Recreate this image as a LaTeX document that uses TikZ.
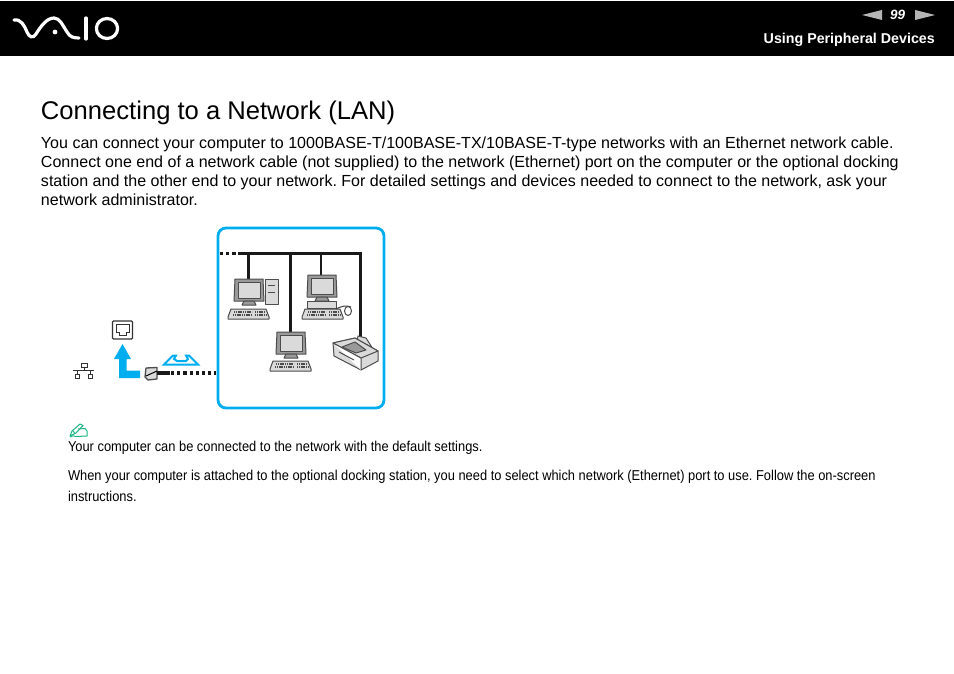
\documentclass[tikz,border=0pt]{standalone}
\usepackage{fontspec}
\setmainfont{Liberation Sans}
\newfontfamily\narrowfont[FakeStretch=0.9]{Liberation Sans}
\definecolor{vblue}{HTML}{00AEEF}
\definecolor{vgreen}{HTML}{1DB584}
\definecolor{vgray}{HTML}{B5B5B5}
\definecolor{scr}{HTML}{DADADA}
\definecolor{mid}{HTML}{9A9A9A}
\tikzset{
  txt/.style={anchor=base west,inner sep=0pt,outer sep=0pt},
  bodytxt/.style={txt,font=\fontsize{16.04}{18}\selectfont\frenchspacing},
  notetxt/.style={txt,font=\narrowfont\fontsize{14.3}{17}\selectfont\frenchspacing},
  cable/.style={line width=2.8pt,color=black!90},
  bus/.style={line width=3.4pt,color=black!90},
  dots/.style={line width=3.2pt,color=black!90,dash pattern=on 3.2pt off 3pt},
  dev/.style={draw=black!70,line width=1pt,fill=white,line join=round},
  logo/.style={draw=white,line width=3.2pt,line cap=round},
  monitor/.pic={
    \draw[dev,fill=mid] (0,0) -- (28,0) -- (29,22) -- (-1,22) -- cycle;
    \draw[dev,fill=scr] (3,3) rectangle (25,19);
    \draw[dev,fill=mid] (9,22) -- (19,22) -- (21,26) -- (7,26) -- cycle;
  },
  keyboard/.pic={
    \draw[dev,fill=scr] (3,0) -- (38,0) -- (41,8) -- (41,10) -- (0,10) -- (0,8) -- cycle;
    \draw[black!70,line width=1.2pt,dash pattern=on 1.2pt off 0.6pt] (6,3) -- (24,3) (5,6) -- (24,6) (27,3) -- (37,3) (27,6) -- (38,6);
  },
}
\begin{document}
\begin{tikzpicture}[x=1pt,y=-1pt]
\useasboundingbox (0,0) rectangle (954,674);
\fill[white] (0,0) rectangle (954,674);
% header
\fill[black] (0,1) rectangle (954,56);
\draw[logo] (14,20) .. controls (21,19) and (24,25) .. (27,32) .. controls (29,37) and (33,39) .. (36,34)
   .. controls (41,26) and (47,18) .. (54,18) .. controls (60,18) and (63,26) .. (67,32) .. controls (70,37) and (73,38) .. (79,38);
\fill[white] (55,32) circle (2.4);
\draw[logo] (86,18) -- (86,39);
\draw[logo] (107,28.5) ellipse (10.6 and 10);
\fill[vgray] (862,15) -- (882,10) -- (882,20) -- cycle;
\fill[vgray] (935,15) -- (915,10) -- (915,20) -- cycle;
\node[txt,text=white,font=\fontsize{13.5}{16}\selectfont\bfseries\itshape] (pagenum) at (890,20) {99};
\node[anchor=base east,inner sep=0,text=white,font=\fontsize{14.25}{17}\selectfont\bfseries] (section) at (935,43.5) {Using Peripheral Devices};
% text
\node[txt,font=\fontsize{25.6}{30}\selectfont] (title) at (41,119.6) {Connecting to a Network (LAN)};
\node[bodytxt] (b1) at (41,148.6) {You can connect your computer to 1000BASE-T/100BASE-TX/10BASE-T-type networks with an Ethernet network cable.};
\node[bodytxt] (b2) at (41,167.6) {Connect one end of a network cable (not supplied) to the network (Ethernet) port on the computer or the optional docking};
\node[bodytxt] (b3) at (41,186.6) {station and the other end to your network. For detailed settings and devices needed to connect to the network, ask your};
\node[bodytxt] (b4) at (41,205.6) {network administrator.};
% network box
\draw[vblue,line width=2.8pt,rounded corners=8pt] (218,228) rectangle (384,408);
\draw[dots] (220,253.5) -- (238,253.5);
\draw[bus] (238,253.5) -- (362.2,253.5);
\draw[cable] (248.3,253) -- (248.3,279);
\draw[cable] (290.5,253) -- (290.5,332);
\draw[cable] (321,253) -- (321,276);
\draw[cable] (360.8,253) -- (360.8,346);
% PC 1
\pic at (235,279) {monitor};
\draw[dev,fill=scr] (265,279) rectangle (278,304);
\draw[black!70,line width=1pt] (268,285) -- (275,285) (268,292) -- (275,292);
\pic at (228,309) {keyboard};
% PC 2
\pic at (308,275) {monitor};
\draw[dev,fill=scr] (307,301) rectangle (336,308);
\pic at (302,309) {keyboard};
\draw[black!75,line width=1pt] (336,309) .. controls (342,306) and (346,305) .. (351,307);
\draw[dev] (348,311) ellipse (3.5 and 4.5);
% PC 3
\pic at (277,332) {monitor};
\pic at (270,361) {keyboard};
% printer
\draw[dev,fill=scr] (356,347) -- (358,336) -- (366,338) -- (373,349) -- cycle;
\draw[dev,fill=scr] (333,343) -- (355,338) -- (378,351) -- (378,361) -- (361,370) -- (334,356) -- cycle;
\draw[dev,fill=scr] (333,343) -- (361,358) -- (378,351) -- (355,338) -- cycle;
\draw[dev] (333,343) -- (361,358) -- (361,370);
\draw[dev,fill=mid] (342,347) -- (355,342) -- (366,350) -- (356,353) -- cycle;
\draw[dev] (339,352) -- (354,360);
% left side
\draw[black!80,line width=1.3pt,rounded corners=1pt,fill=white] (112.5,321) rectangle (132.5,339);
\draw[black!80,line width=1pt] (116,324) -- (129,324) -- (129,332) -- (126,332) -- (126,335) -- (119,335) -- (119,332) -- (116,332) -- cycle;
\fill[vblue] (122.5,344) -- (131,359) -- (126.5,359) -- (126.5,370.5) -- (140,370.5) -- (140,378) -- (119,378) -- (119,359) -- (114,359) -- cycle;
% plug
\draw[dev,line width=1.3pt,fill=scr] (146,368) -- (157,367.5) -- (157,379) -- (148,380) -- (145,377) -- cycle;
\draw[black,line width=1pt] (146,376) -- (157,371);
\draw[bus] (157,373) -- (170,373);
\draw[dots] (171,373) -- (216,373);
% double arrow symbol
\draw[vblue,line width=2pt,line join=miter,fill=white] (164,364.5) -- (173,355.5) -- (176,355.5) -- (174,359) -- (177,361) -- (186,361) -- (188,359) -- (186,355.5) -- (189,355.5) -- (198,364.5) -- cycle;
% network symbol
\draw[black!80,line width=0.9pt] (81,363) rectangle (87,367) (84,367) -- (84,370) (73,370.5) -- (94,370.5) (77,370.5) -- (77,374) (90,370.5) -- (90,374) (75,374) rectangle (79.5,378) (88,374) rectangle (92.5,378);
% note icon
\draw[vgreen,line width=1pt,line join=round] (70,436) -- (72,431) -- (80,424) -- (83,425.5) -- (76,433) -- cycle;
\draw[vgreen,line width=1pt,line join=round] (73,431) -- (75,433.5) (78,429) -- (85,428.5) -- (87,431) -- (87,436) -- (76,436.5) .. controls (74,435) and (72,436) .. (70,437);
% notes
\node[notetxt] (n1) at (68,451) {Your computer can be connected to the network with the default settings.};
\node[notetxt] (n2) at (68,480) {When your computer is attached to the optional docking station, you need to select which network (Ethernet) port to use. Follow the on-screen};
\node[notetxt] (n3) at (68,501) {instructions.};
\end{tikzpicture}
\end{document}
